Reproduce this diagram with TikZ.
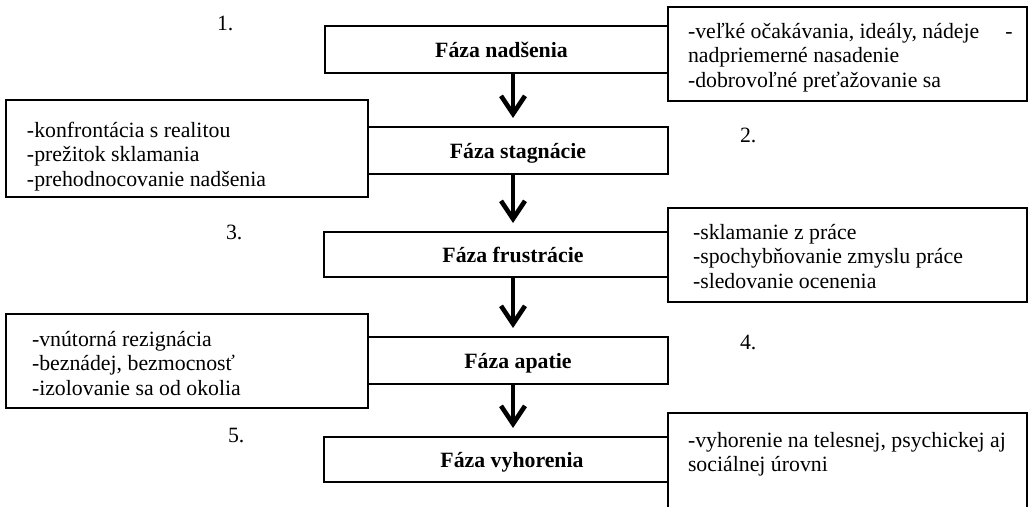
\documentclass[tikz,border=0pt]{standalone}
\usepackage{fontspec}
\setmainfont{Liberation Serif}
\usetikzlibrary{arrows.meta}
\begin{document}
\begin{tikzpicture}[x=1pt,y=-1pt,
  every node/.style={font=\fontsize{21.8}{24.7}\selectfont, inner sep=0pt, outer sep=0pt},
  phase/.style={draw, line width=2pt, font=\fontsize{21.8}{24.7}\selectfont\bfseries,
                text height=16pt, text depth=0pt},
  side/.style={draw, line width=1.6pt},
  notes/.style={anchor=base west},
  num/.style={anchor=base west},
  flow/.style={line width=4.6pt, -{Straight Barb[length=18pt,width=24pt]}, shorten >=9pt}]
\useasboundingbox (0,0) rectangle (1030,506);

% side boxes with the symptoms of each phase
\node[side, minimum width=359, minimum height=94]  (s1) at (847.5,54)    {};
\node[side, minimum width=362, minimum height=97]  (s2) at (187,148.5)   {};
\node[side, minimum width=359, minimum height=94]  (s3) at (847.5,255)   {};
\node[side, minimum width=362, minimum height=94]  (s4) at (187,361)     {};
\node[side, minimum width=359, minimum height=117] (s5) at (847.5,471.5) {};

% the five phases (titles sit slightly right of the box centre)
\node[phase, minimum width=343, minimum height=47] (p1) at (496.5,49.5) {\hspace*{10pt}Fáza nadšenia};
\node[phase, minimum width=300, minimum height=47] (p2) at (518,150.5)  {Fáza stagnácie};
\node[phase, minimum width=344, minimum height=45] (p3) at (496,254.5)  {\hspace*{34pt}Fáza frustrácie};
\node[phase, minimum width=300, minimum height=47] (p4) at (518,360.5)  {Fáza apatie};
\node[phase, minimum width=344, minimum height=45] (p5) at (496,459.5)  {\hspace*{32pt}Fáza vyhorenia};

% arrows between the phases
\coordinate (ax) at (513,0);
\draw[flow] (p1.south -| ax) -- (p2.north -| ax);
\draw[flow] (p2.south -| ax) -- (p3.north -| ax);
\draw[flow] (p3.south -| ax) -- (p4.north -| ax);
\draw[flow] (p4.south -| ax) -- (p5.north -| ax);

% texts of the side boxes
\node[notes] (t1) at (688,38)  {\parbox[t]{340pt}{-veľké očakávania, ideály, nádeje\hspace*{26pt}-\\nadpriemerné nasadenie\\-dobrovoľné preťažovanie sa}};
\node[notes] (t2) at (27,137)  {\parbox[t]{330pt}{-konfrontácia s realitou\\-prežitok sklamania\\-prehodnocovanie nadšenia}};
\node[notes] (t3) at (693,239) {\parbox[t]{330pt}{-sklamanie z práce\\-spochybňovanie zmyslu práce\\-sledovanie ocenenia}};
\node[notes] (t4) at (32,346)  {\parbox[t]{330pt}{-vnútorná rezignácia\\-beznádej, bezmocnosť\\-izolovanie sa od okolia}};
\node[notes] (t5) at (688,447) {\parbox[t]{340pt}{-vyhorenie na telesnej, psychickej aj\\sociálnej úrovni}};

% phase numbers
\node[num] (n1) at (217,30)  {1.};
\node[num] (n2) at (740,142) {2.};
\node[num] (n3) at (226,239) {3.};
\node[num] (n4) at (740,349) {4.};
\node[num] (n5) at (228,442) {5.};
\end{tikzpicture}
\end{document}
